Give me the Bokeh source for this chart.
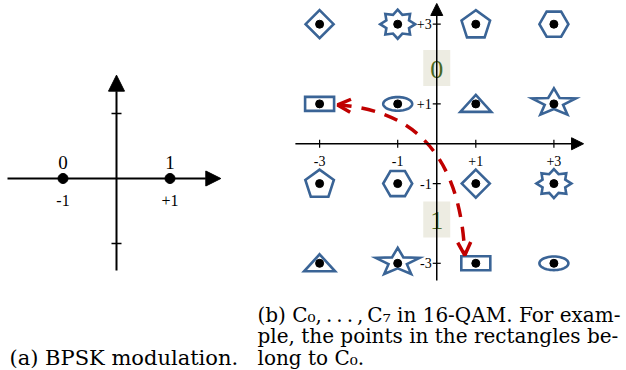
import numpy as np
from bokeh.plotting import figure
from bokeh.layouts import row
from bokeh.models import Arrow, NormalHead, OpenHead, Range1d
from bokeh.embed import file_html
from bokeh.resources import INLINE
from bokeh.core.properties import value

# ---------------- data ----------------
BPSK_SYMBOLS = [-1, 1]
BPSK_BITS = ["0", "1"]
BPSK_TICK_LABELS = ["-1", "+1"]
BPSK_Y_TICKS = [-1, 1]

QAM_I = [-3, -1, 1, 3, -3, -1, 1, 3, -3, -1, 1, 3, -3, -1, 1, 3]
QAM_Q = [3, 3, 3, 3, 1, 1, 1, 1, -1, -1, -1, -1, -3, -3, -3, -3]
QAM_CLASS = [4, 5, 6, 7, 0, 1, 2, 3, 6, 7, 4, 5, 2, 3, 0, 1]
CLASS_SHAPES = ["rectangle", "ellipse", "triangle", "star",
                "diamond", "starburst", "pentagon", "hexagon"]
QAM_TICKS = [-3, -1, 1, 3]
QAM_TICK_LABELS = ["-3", "-1", "+1", "+3"]
BIT_LABELS = ["0", "1"]
BIT_LABEL_Q = [1.9, -1.9]
HIGHLIGHT_CLASS = 0

TS = "\u2009"
CAPTION_A = "(a) BPSK modulation."
CAPTION_B = ["(b) C\u2080," + TS + "." + TS + "." + TS + "." + TS + "," + TS + "C\u2087 in 16-QAM. For exam-",
             "ple, the points in the rectangles be-",
             "long to C\u2080."]

# ---------------- styles / layout ----------------
SERIF = value("Liberation Serif")
CAP_FONT = value("DejaVu Serif")
SHAPE_COLOR = "#3A6496"
RED = "#C00000"
H = 370

# left panel geometry (pixels per unit, origin position in canvas)
LW = 250
LUX, LUY = 53.5, 65.0
LOX, LOY = 116.0, 178.0
# right panel geometry
RW = 376
RUX, RUY = 39.05, 39.85
ROX, ROY = 186.25, 143.25


def make_fig(w, ux, uy, ox, oy):
    x0 = -ox / ux
    x1 = x0 + w / ux
    y1 = oy / uy
    y0 = y1 - H / uy
    p = figure(width=w, height=H, output_backend="svg", toolbar_location=None,
               x_range=Range1d(x0, x1), y_range=Range1d(y0, y1),
               min_border=0, x_axis_location=None, y_axis_location=None)
    p.grid.visible = False
    p.outline_line_color = None
    p.background_fill_color = None
    p.border_fill_color = None
    return p, x0, x1, y0, y1


# ================= (a) BPSK =================
pa, ax0, ax1, ay0, ay1 = make_fig(LW, LUX, LUY, LOX, LOY)
pa.add_layout(Arrow(end=NormalHead(size=15, fill_color="black", line_color="black"),
                    x_start=ax0 + 7 / LUX, y_start=0, x_end=1.95, y_end=0,
                    line_width=2, line_color="black"))
pa.add_layout(Arrow(end=NormalHead(size=16, fill_color="black", line_color="black"),
                    x_start=0, y_start=-1.415, x_end=0, y_end=1.59,
                    line_width=2, line_color="black"))
pa.segment(x0=[-5 / LUX] * len(BPSK_Y_TICKS), x1=[5 / LUX] * len(BPSK_Y_TICKS),
           y0=BPSK_Y_TICKS, y1=BPSK_Y_TICKS, line_color="black", line_width=1.5)
pa.scatter(x=BPSK_SYMBOLS, y=[0] * len(BPSK_SYMBOLS), size=10,
           fill_color="black", line_color="black")
pa.text(x=BPSK_SYMBOLS, y=[0] * len(BPSK_SYMBOLS), text=BPSK_BITS,
        text_font=SERIF, text_font_size="19px", text_align="center",
        text_baseline="alphabetic", y_offset=-16, text_color="black")
pa.text(x=BPSK_SYMBOLS, y=[0] * len(BPSK_SYMBOLS), text=BPSK_TICK_LABELS,
        text_font=SERIF, text_font_size="16px", text_align="center",
        text_baseline="alphabetic", y_offset=22, text_color="black")
pa.text(x=[ax0], y=[ay1], text=[CAPTION_A], text_font=CAP_FONT,
        text_font_size="21px", text_align="left", text_baseline="alphabetic",
        x_offset=9, y_offset=357, text_color="black")

# ================= (b) 16-QAM =================
pb, bx0, bx1, by0, by1 = make_fig(RW, RUX, RUY, ROX, ROY)

# axes
pb.add_layout(Arrow(end=NormalHead(size=12, fill_color="black", line_color="black"),
                    x_start=-3.62, y_start=0, x_end=3.76, y_end=0,
                    line_width=1.5, line_color="black"))
pb.add_layout(Arrow(end=NormalHead(size=12, fill_color="black", line_color="black"),
                    x_start=0, y_start=-3.43, x_end=0, y_end=3.52,
                    line_width=1.5, line_color="black"))
nt = len(QAM_TICKS)
pb.segment(x0=QAM_TICKS, x1=QAM_TICKS, y0=[-4 / RUY] * nt, y1=[4 / RUY] * nt,
           line_color="black", line_width=1.2)
pb.segment(x0=[-4 / RUX] * nt, x1=[4 / RUX] * nt, y0=QAM_TICKS, y1=QAM_TICKS,
           line_color="black", line_width=1.2)
pb.text(x=QAM_TICKS, y=[0] * nt, text=QAM_TICK_LABELS, text_font=SERIF,
        text_font_size="14px", text_align="center", text_baseline="alphabetic",
        y_offset=17, text_color="black")
pb.text(x=[0] * nt, y=QAM_TICKS, text=QAM_TICK_LABELS, text_font=SERIF,
        text_font_size="14px", text_align="right", text_baseline="middle",
        x_offset=-5, text_color="black")

# bit label boxes
pb.rect(x=[0] * len(BIT_LABELS), y=BIT_LABEL_Q, width=27 / RUX, height=36 / RUY,
        fill_color="#EDECE2", line_color=None)
pb.text(x=[0] * len(BIT_LABELS), y=BIT_LABEL_Q, text=BIT_LABELS, text_font=SERIF,
        text_font_size="26px", text_align="center", text_baseline="middle",
        text_color="#4A6822", y_offset=1)


# constellation shapes (outline in pixel offsets around each point)
def shape_px(name):
    if name == "diamond":
        return [(0, 14), (14, 0), (0, -14), (-14, 0)]
    if name == "rectangle":
        return [(-14.5, 7), (14.5, 7), (14.5, -7), (-14.5, -7)]
    if name == "triangle":
        return [(0, 9), (15.5, -8), (-15.5, -8)]
    if name == "pentagon":
        a = np.radians(90 + 72 * np.arange(5))
        return list(zip(15 * np.cos(a), 15 * np.sin(a) - 1))
    if name == "hexagon":
        a = np.radians(60 * np.arange(6))
        return list(zip(14.5 * np.cos(a), 14.5 * np.sin(a)))
    if name == "star":
        a = np.radians(90 + 36 * np.arange(10))
        r = np.where(np.arange(10) % 2 == 0, 1.0, 0.42)
        return list(zip(23 * r * np.cos(a), 14.5 * r * np.sin(a) + 1))
    if name == "starburst":
        a = np.radians(90 + 22.5 * np.arange(16))
        r = np.where(np.arange(16) % 2 == 0, 1.0, 0.7)
        return list(zip(17.5 * r * np.cos(a), 14.5 * r * np.sin(a)))
    if name == "ellipse":
        a = np.linspace(0, 2 * np.pi, 48, endpoint=False)
        return list(zip(14.5 * np.cos(a), 6.8 * np.sin(a)))


xs, ys = [], []
for i, q, c in zip(QAM_I, QAM_Q, QAM_CLASS):
    pts = shape_px(CLASS_SHAPES[c])
    xs.append([i + dx / RUX for dx, dy in pts])
    ys.append([q + dy / RUY for dx, dy in pts])
pb.patches(xs=xs, ys=ys, fill_color=None, line_color=SHAPE_COLOR, line_width=2.6,
           line_join="miter")
pb.scatter(x=QAM_I, y=QAM_Q, size=8, fill_color="black", line_color="black")

# red dashed double arrow between the two points of the highlighted class
hl = [(i, q) for i, q, c in zip(QAM_I, QAM_Q, QAM_CLASS) if c == HIGHLIGHT_CLASS]
(ia, qa), (ib, qb) = sorted(hl)
tip_a = (ia + 18 / RUX, qa - 1 / RUY)
tip_b = (ib - 11 / RUX, qb + 8 / RUY)
ctrl = (0.56, 0.78)
pb.quadratic(x0=[tip_a[0]], y0=[tip_a[1]], x1=[tip_b[0]], y1=[tip_b[1]],
             cx=[ctrl[0]], cy=[ctrl[1]], line_color=RED, line_width=3.5,
             line_dash="14 10")
for tip in (tip_a, tip_b):
    pb.add_layout(Arrow(end=OpenHead(size=13, line_color=RED, line_width=3.5),
                        x_start=ctrl[0], y_start=ctrl[1], x_end=tip[0], y_end=tip[1],
                        line_alpha=0))

# caption (b)
for k, line in enumerate(CAPTION_B):
    pb.text(x=[bx0], y=[by1], text=[line], text_font=CAP_FONT,
            text_font_size="20px", text_align="left", text_baseline="alphabetic",
            x_offset=7, y_offset=314 + 21.5 * k, text_color="black")

layout = row(pa, pb)
open("out.html", "w").write(file_html(layout, INLINE))
